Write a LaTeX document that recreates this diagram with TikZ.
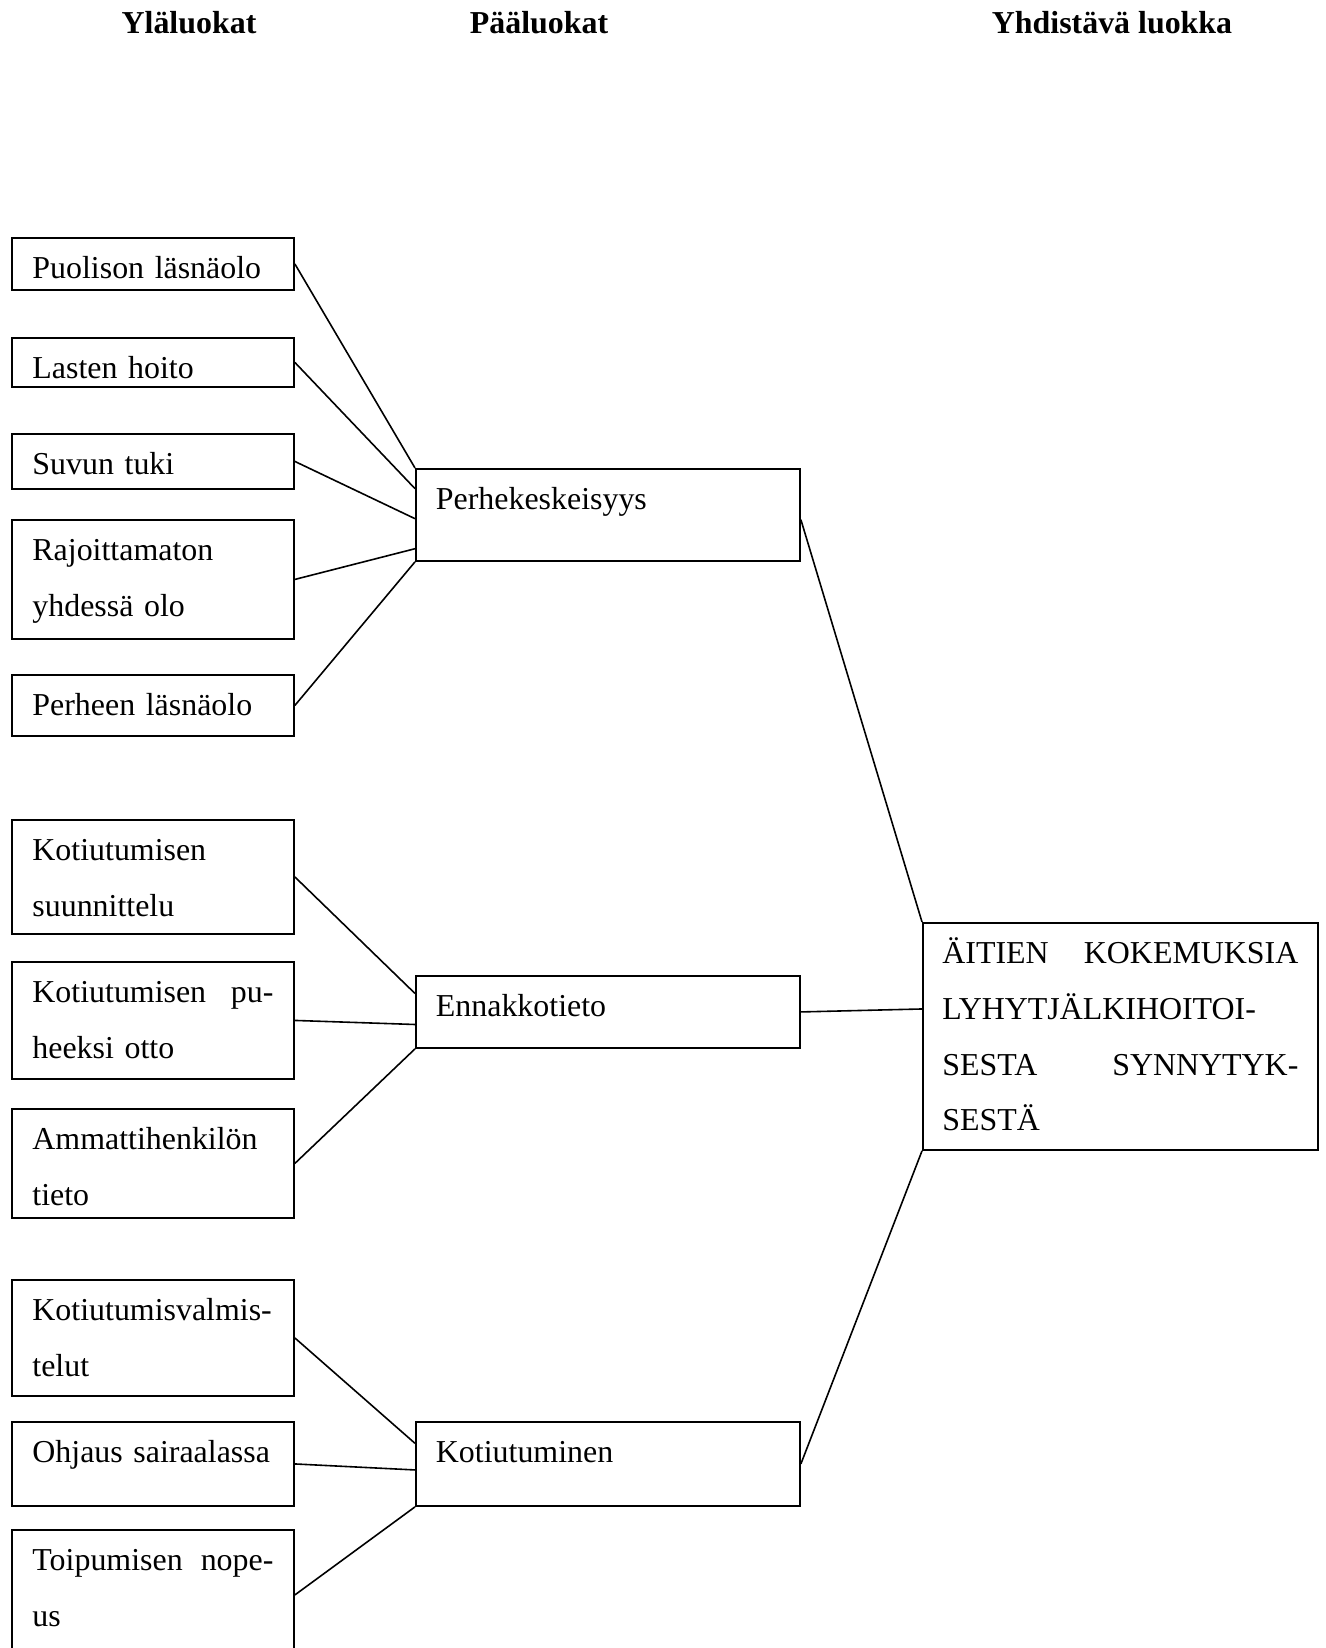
\documentclass[tikz,border=0pt]{standalone}
\usepackage{fontspec}
\setmainfont{Liberation Serif}
\usepackage{tikz}
\usetikzlibrary{positioning, calc}

\newcommand{\px}[1]{#1*0.376pt}
\hyphenpenalty=10000

\begin{document}
\begin{tikzpicture}[x=0.376pt, y=-0.376pt,
  font=\fontsize{12}{20.9}\selectfont,
  lbox/.style={draw=black, line width=0.7pt, rectangle, anchor=north west,
    inner xsep=\px{20.5}, inner ysep=0pt, text width=\px{241}, align=left,
    text height=\px{41}, text depth=\px{(#1-41)}},
  mbox/.style={lbox=#1, inner xsep=\px{20}, text width=\px{344}},
  head/.style={anchor=base, font=\fontsize{12}{14}\selectfont\bfseries}]
  \clip (0,0) rectangle (1325,1648);

  \node (yla) [head] at (189,34) {Yläluokat};
  \node (paa) [head] at (539,34) {Pääluokat};
  \node (yhd) [head] at (1112,34) {Yhdistävä luokka};

  % ylaluokat
  \node (puoliso) [lbox=52] at (11,237) {Puolison läsnäolo};
  \node (lapset) [lbox=49] at (11,337) {Lasten hoito};
  \node (suku) [lbox=55] at (11,433) {Suvun tuki};
  \node (yhdessa) [lbox=119] at (11,519) {Rajoittamaton\\yhdessä olo};
  \node (perheen) [lbox=61] at (11,674) {Perheen läsnäolo};

  \node (suunnittelu) [lbox=114] at (11,819) {Kotiutumisen\\suunnittelu};
  \node (puheeksi) [lbox=117] at (11,961) {Kotiutumisen\hfill pu-\\heeksi otto};
  \node (ammatti) [lbox=109] at (11,1108) {Ammattihenkilön\\tieto};

  \node (valmistelu) [lbox=116] at (11,1279) {Kotiutumisvalmis-\\telut};
  \node (ohjaus) [lbox=84] at (11,1421) {Ohjaus sairaalassa};
  \node (toipuminen) [lbox=130] at (11,1529) {Toipumisen\hfill nope-\\us};

  % paaluokat
  \node (perhe) [mbox=92] at (415,468) {Perhekeskeisyys};
  \node (ennakko) [mbox=72] at (415,975) {Ennakkotieto};
  \node (kotiutuminen) [mbox=84] at (415,1421) {Kotiutuminen};

  % yhdistava luokka
  \node (aitien) [lbox=227, inner xsep=\px{19.5}, text width=\px{356}] at (922,922)
    {ÄITIEN\hfill KOKEMUKSIA\\LYHYTJÄLKIHOITOI-\\SESTA\hfill SYNNYTYK-\\SESTÄ};

  \path [-] [line width=0.6pt]
  (puoliso.east) edge (perhe.north west)
  (lapset.east) edge ($(perhe.north west)!0.22!(perhe.south west)$)
  (suku.east) edge ($(perhe.north west)!0.54!(perhe.south west)$)
  (yhdessa.east) edge ($(perhe.north west)!0.86!(perhe.south west)$)
  (perheen.east) edge (perhe.south west)
  (suunnittelu.east) edge ($(ennakko.north west)!0.25!(ennakko.south west)$)
  (puheeksi.east) edge ($(ennakko.north west)!0.67!(ennakko.south west)$)
  (ammatti.east) edge (ennakko.south west)
  (valmistelu.east) edge ($(kotiutuminen.north west)!0.26!(kotiutuminen.south west)$)
  (ohjaus.east) edge ($(kotiutuminen.north west)!0.57!(kotiutuminen.south west)$)
  (toipuminen.east) edge (kotiutuminen.south west)
  ($(perhe.north east)!0.55!(perhe.south east)$) edge (aitien.north west)
  (ennakko.east) edge ($(aitien.north west)!0.38!(aitien.south west)$)
  (kotiutuminen.east) edge (aitien.south west);
\end{tikzpicture}
\end{document}
